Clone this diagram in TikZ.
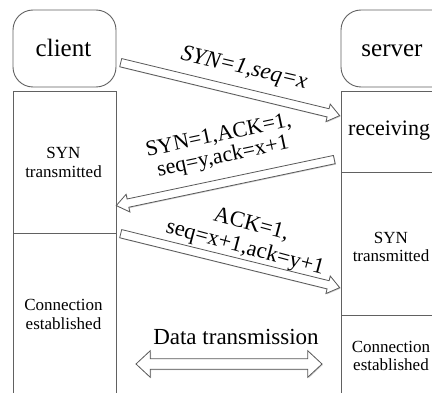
\documentclass[tikz,border=0pt]{standalone}
\usepackage{fontspec}
\setmainfont{Liberation Serif}
\usetikzlibrary{shapes.arrows,calc,shadows}

\tikzset{
  frame/.style={draw=black!62, line width=0.9pt},
  arrowshade/.style={drop shadow={shadow xshift=0.9pt, shadow yshift=-0.9pt, opacity=0.3, fill=black!60}},
  arr/.style={single arrow, draw=black!65, fill=white, line width=0.8pt,
    inner xsep=0pt, inner ysep=3.8pt, single arrow head extend=4.8pt,
    single arrow tip angle=74, arrowshade},
  darr/.style={double arrow, draw=black!65, fill=white, line width=0.8pt,
    inner xsep=0pt, inner ysep=4.8pt, double arrow head extend=8pt,
    double arrow tip angle=86, arrowshade},
  title/.style={font=\fontsize{25}{25}\selectfont, inner sep=0pt, anchor=base},
  small/.style={font=\fontsize{17}{19}\selectfont, align=center, inner sep=0pt},
  smallr/.style={font=\fontsize{17}{18}\selectfont, align=center, inner sep=0pt},
  lbl/.style={font=\fontsize{22}{21.5}\selectfont, align=center, inner sep=0pt},
}

\newcommand\blkarrow[4]{%
  \path let \p1=($(#3)-(#2)$), \n1={atan2(\y1,\x1)}, \n2={veclen(\x1,\y1)} in
    node[#1, minimum height=\n2, rotate=\n1] (#4) at ($(#2)!0.5!(#3)$) {};}

\begin{document}
\begin{tikzpicture}[x=1pt,y=-1pt]
  \useasboundingbox (0,0) rectangle (432,393);
  \fill[white] (0,0) rectangle (432,393);
  \clip (0,0) rectangle (432,393);

  % header boxes
  \draw[frame, rounded corners=20pt] (13,10) rectangle (116,87);
  \draw[frame, rounded corners=20pt] (341,10) rectangle (480,87);
  \node[title] (client) at (63.5,57) {client};
  \node[title] (server) at (392,57) {server};

  % client column
  \draw[frame] (13,400) -- (13,91) -- (116,91) -- (116,400);
  \draw[frame] (13,233) -- (116,233);
  \node[small] (csyn) at (63.5,162) {SYN\\transmitted};
  \node[small] (cest) at (63.5,314) {Connection\\established};

  % server column
  \draw[frame] (341,400) -- (341,91) -- (480,91);
  \draw[frame] (341,172) -- (480,172);
  \draw[frame] (341,315) -- (480,315);
  \node[font=\fontsize{22}{22}\selectfont, inner sep=0pt, anchor=base west] (srecv) at (348,136) {receiving};
  \node[smallr] (ssyn) at (391,246.5) {SYN\\transmitted};
  \node[smallr] (sest) at (391,355.5) {Connection\\established};

  % arrow end points
  \coordinate (a1s) at (118,62);
  \coordinate (a1e) at (337,115);
  \coordinate (a2s) at (337,159);
  \coordinate (a2e) at (119,205);
  \coordinate (a3s) at (118,233);
  \coordinate (a3e) at (337,287);
  \coordinate (d1) at (136,364);
  \coordinate (d2) at (322,364);

  \blkarrow{arr}{a1s}{a1e}{syn}
  \blkarrow{arr}{a2s}{a2e}{synack}
  \blkarrow{arr}{a3s}{a3e}{ack}
  \blkarrow{darr}{d1}{d2}{data}

  % labels
  \node[lbl, font=\fontsize{23}{23}\selectfont\itshape, rotate=-13] (l1) at (244,69) {SYN=1,seq=x};
  \node[lbl, rotate=12] (l2) at (221,147) {SYN=1,ACK=1,\\seq=y,ack=x+1};
  \node[lbl, font=\fontsize{22.5}{24}\selectfont, rotate=-15] (l3) at (248,237) {ACK=1,\\seq=x+1,ack=y+1};
  \node[font=\fontsize{23}{23}\selectfont, inner sep=0pt, anchor=base] (dt) at (236,345) {Data transmission};
\end{tikzpicture}
\end{document}
